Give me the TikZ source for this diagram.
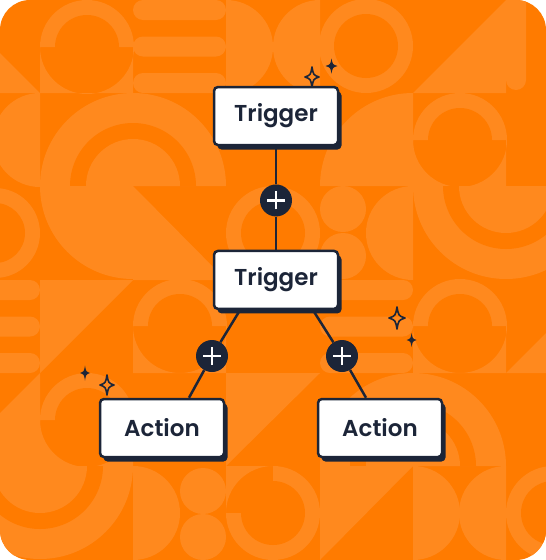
\documentclass[tikz,border=0pt]{standalone}
\usepackage{fontspec}
\newfontfamily\cardfont{Poppins SemiBold}
\usetikzlibrary{positioning,shadows}
\definecolor{bgorange}{RGB}{255,123,0}
\definecolor{patorange}{RGB}{255,137,30}
\definecolor{inkblue}{RGB}{28,37,56}

\begin{document}
\begin{tikzpicture}[x=1pt, y=-1pt,
    card/.style={draw=inkblue, line width=2.5pt, fill=white, rounded corners=4pt, minimum width=124pt, minimum height=58pt, text=inkblue, font=\cardfont\fontsize{23}{28}\selectfont, drop shadow={shadow xshift=3.5pt, shadow yshift=-4.5pt, fill=inkblue, opacity=1}},
    plusdot/.style={circle, fill=inkblue, minimum size=32pt, inner sep=0pt},
    link/.style={draw=inkblue, line width=2.5pt},
    pics/sparkle/.style 2 args={code={\path[pic actions, line join=round] (0,-#2) .. controls (0.2*#1,-0.2*#2) .. (#1,0) .. controls (0.2*#1,0.2*#2) .. (0,#2) .. controls (-0.2*#1,0.2*#2) .. (-#1,0) .. controls (-0.2*#1,-0.2*#2) .. cycle;}}]
  \useasboundingbox (0,0) rectangle (546,560);
  % background tiles
  \begin{scope}
    \clip[rounded corners=30pt] (0,0) rectangle (546,560);
    \fill[bgorange] (0,0) rectangle (546,560);
    % row 1
    \fill[patorange] (0,53) -- (40,93) -- (0,93) -- cycle;
    \fill[patorange] (87,47) circle[radius=47] (40,47) rectangle (133,93);
    \fill[bgorange] (87,47) circle[radius=32];
    \foreach \py in {0,36.5,73}
      \fill[patorange, rounded corners=10pt] (133,\py) rectangle (226,\py+20);
    \fill[patorange] (226,0) arc[start angle=270, end angle=450, radius=47] -- cycle;
    \fill[patorange] (320,0) arc[start angle=270, end angle=90, radius=47] -- cycle;
    \fill[patorange] (366,46) circle[radius=47];
    \fill[bgorange] (366,46) circle[radius=32];
    \fill[patorange] (413,93) -- (506,0) -- (506,93) -- cycle;
    \fill[patorange, rounded corners=10pt] (506,-20) rectangle (526,90);
    % row 2
    \fill[patorange] (40,93) arc[start angle=270, end angle=90, radius=47] -- cycle;
    \fill[patorange] (40,186) arc[start angle=180, end angle=360, radius=93] -- cycle;
    \fill[bgorange] (70,186) arc[start angle=180, end angle=360, radius=63] -- cycle;
    \fill[patorange] (86,186) arc[start angle=180, end angle=360, radius=47] -- cycle;
    \fill[patorange] (133,186) -- (40,186) arc[start angle=180, end angle=90, radius=93] -- cycle;
    \fill[patorange] (413,186) -- (320,186) arc[start angle=180, end angle=270, radius=93] -- cycle;
    \fill[patorange] (460,140) circle[radius=47] (413,140) rectangle (506,186);
    \fill[bgorange] (460,140) circle[radius=32];
    % row 3
    \fill[patorange] (-5,233) circle[radius=45];
    \fill[bgorange] (-5,233) circle[radius=30];
    \fill[patorange] (133,186) -- (226,280) -- (133,280) -- cycle;
    \fill[patorange] (273,233) circle[radius=47];
    \fill[bgorange] (273,233) circle[radius=32];
    \fill[patorange] (343,209) circle[radius=23] (343,256) circle[radius=23];
    \fill[patorange] (413,186) arc[start angle=270, end angle=90, radius=47] -- cycle;
    \fill[patorange] (413,186) arc[start angle=180, end angle=0, radius=93] -- cycle;
    \fill[bgorange] (443,186) arc[start angle=180, end angle=0, radius=63] -- cycle;
    \fill[patorange] (459,186) arc[start angle=180, end angle=0, radius=47] -- cycle;
    % row 4
    \foreach \py in {280,316.5,353}
      \fill[patorange, rounded corners=10pt] (-20,\py) rectangle (40,\py+20);
    \fill[patorange] (40,280) -- (133,280) -- (40,373) -- cycle;
    \fill[patorange] (180,326) circle[radius=47] (133,326) rectangle (226,373);
    \fill[bgorange] (180,326) circle[radius=32];
    \foreach \py in {280,316.5,353}
      \fill[patorange, rounded corners=10pt] (320,\py) rectangle (413,\py+20);
    \fill[patorange] (460,326) circle[radius=47] (413,326) rectangle (506,373);
    \fill[bgorange] (460,326) circle[radius=32];
    \fill[patorange] (506,373) -- (599,280) -- (599,373) -- cycle;
    % row 5
    \fill[patorange] (-53,466) -- (40,373) -- (40,466) -- cycle;
    \fill[patorange] (87,420) circle[radius=47] (40,420) rectangle (133,466);
    \fill[bgorange] (87,420) circle[radius=32];
    \fill[patorange] (226,373) -- (320,373) -- (226,466) -- cycle;
    \fill[patorange] (320,466) arc[start angle=180, end angle=360, radius=93] -- cycle;
    \fill[bgorange] (350,466) arc[start angle=180, end angle=360, radius=63] -- cycle;
    \fill[patorange] (366,466) arc[start angle=180, end angle=360, radius=47] -- cycle;
    % row 6
    \fill[patorange] (-53,466) arc[start angle=180, end angle=0, radius=93] -- cycle;
    \fill[bgorange] (-23,466) arc[start angle=180, end angle=0, radius=63] -- cycle;
    \fill[patorange] (-7,466) arc[start angle=180, end angle=0, radius=47] -- cycle;
    \fill[patorange] (133,466) arc[start angle=270, end angle=450, radius=47] -- cycle;
    \fill[patorange] (203,491) circle[radius=23] (203,537) circle[radius=23];
    \fill[patorange] (273,513) circle[radius=47] (226,466) rectangle (273,513);
    \fill[bgorange] (273,513) circle[radius=32];
    \fill[patorange] (320,466) -- (413,466) -- (320,560) -- cycle;
    \fill[patorange] (413,466) arc[start angle=270, end angle=450, radius=47] -- cycle;
    \fill[patorange] (506,466) arc[start angle=270, end angle=90, radius=47] -- cycle;
    \fill[patorange] (553,513) circle[radius=47];
    \fill[bgorange] (553,513) circle[radius=32];
  \end{scope}

  % flow
  \node[card] (trigA) at (276,116) {Trigger};
  \node[plusdot, below=38pt of trigA] (addA) {};
  \node[card, below=33pt of addA] (trigB) {Trigger};
  \node[card] (actL) at (162,428) {Action};
  \node[card] (actR) at (380,428) {Action};
  \node[plusdot] (addL) at (212,356) {};
  \node[plusdot] (addR) at (342,356) {};

  \draw[link] (trigA) -- (addA);
  \draw[link] (addA) -- (trigB);
  \draw[link] ([xshift=-36pt]trigB.south) -- (addL);
  \draw[link] (addL) -- ([xshift=27pt]actL.north);
  \draw[link] ([xshift=37pt]trigB.south) -- (addR);
  \draw[link] (addR) -- ([xshift=-14pt]actR.north);
  \foreach \n in {addA,addL,addR}
    \draw[white, line width=2.8pt] ([xshift=-9pt]\n.center) -- ([xshift=9pt]\n.center)
      ([yshift=-9pt]\n.center) -- ([yshift=9pt]\n.center);

  % sparkles
  \pic[draw=inkblue, line width=1.6pt] at (312,77) {sparkle={7}{10}};
  \pic[fill=inkblue] at (331.5,66) {sparkle={6}{7.5}};
  \pic[draw=inkblue, line width=1.6pt] at (397,318) {sparkle={8}{11}};
  \pic[fill=inkblue] at (411.6,340) {sparkle={5}{7}};
  \pic[fill=inkblue] at (85,373) {sparkle={5}{7.5}};
  \pic[draw=inkblue, line width=1.6pt] at (107,385) {sparkle={7}{10}};
\end{tikzpicture}
\end{document}
